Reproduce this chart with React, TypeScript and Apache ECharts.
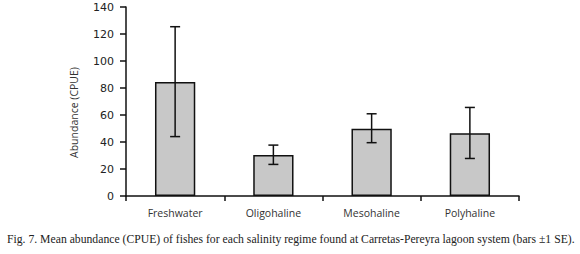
import React, { useEffect, useRef } from "react";
import * as echarts from "echarts";

const categories = ["Freshwater", "Oligohaline", "Mesohaline", "Polyhaline"];
const meanValues = [84.5, 30.3, 49.8, 46.5];
const lowerValues = [44, 23.4, 39.5, 27.8];
const upperValues = [125.4, 37.7, 60.9, 65.6];
const yTicks = [0, 20, 40, 60, 80, 100, 120, 140];
const yAxisTitle = "Abundance (CPUE)";
const caption =
  "Fig. 7. Mean abundance (CPUE) of fishes for each salinity regime found at Carretas-Pereyra lagoon system (bars \u00b11 SE).";

export default function App() {
  const ref = useRef<HTMLDivElement>(null);
  useEffect(() => {
    if (!ref.current) return;
    const chart = echarts.init(ref.current, null, { renderer: "svg" });
    const errData = categories.map((_, i) => [i, lowerValues[i], upperValues[i]]);
    chart.setOption({
      animation: false,
      backgroundColor: "#ffffff",
      grid: { left: 126, right: 61, top: 7, bottom: 58 },
      xAxis: {
        type: "category",
        data: categories,
        axisLine: { lineStyle: { color: "#111", width: 1.5 } },
        axisTick: { show: true, length: 5, lineStyle: { color: "#111", width: 1.5 } },
        axisLabel: {
          color: "#333",
          fontFamily: "Open Sans",
          fontSize: 10.5,
          margin: 11,
        },
      },
      yAxis: {
        type: "value",
        min: yTicks[0],
        max: yTicks[yTicks.length - 1],
        interval: 20,
        name: yAxisTitle,
        nameLocation: "middle",
        nameGap: 47,
        nameTextStyle: { color: "#333", fontFamily: "Open Sans", fontSize: 10.5, padding: [0, 0, 0, -22] },
        axisLine: { show: true, lineStyle: { color: "#111", width: 1.5 } },
        axisTick: { show: true, length: 6, lineStyle: { color: "#111", width: 1.5 } },
        axisLabel: {
          color: "#222",
          fontFamily: "DejaVu Sans",
          fontSize: 11,
          margin: 12,
        },
        splitLine: { show: false },
      },
      series: [
        {
          type: "bar",
          data: meanValues,
          barWidth: "41%",
          itemStyle: { color: "#c8c8c8", borderColor: "#111", borderWidth: 1.5 },
        },
        {
          type: "custom",
          data: errData,
          z: 10,
          renderItem: (params: any, api: any) => {
            const x = api.value(0);
            const lo = api.coord([x, api.value(1)]);
            const hi = api.coord([x, api.value(2)]);
            const hw = 5;
            const style = { stroke: "#111", lineWidth: 1.5 };
            return {
              type: "group",
              children: [
                { type: "line", shape: { x1: lo[0], y1: lo[1], x2: hi[0], y2: hi[1] }, style },
                { type: "line", shape: { x1: lo[0] - hw, y1: lo[1], x2: lo[0] + hw, y2: lo[1] }, style },
                { type: "line", shape: { x1: hi[0] - hw, y1: hi[1], x2: hi[0] + hw, y2: hi[1] }, style },
              ],
            };
          },
        },
      ],
      graphic: [
        {
          type: "text",
          left: 7,
          top: 233,
          style: {
            text: caption,
            fill: "#222",
            font: "11.7px 'Liberation Serif'",
          },
        },
      ],
    });
    return () => chart.dispose();
  }, []);
  return (
    <div
      ref={ref}
      style={{ position: "fixed", left: 0, top: 0, width: 580, height: 254 }}
    />
  );
}
